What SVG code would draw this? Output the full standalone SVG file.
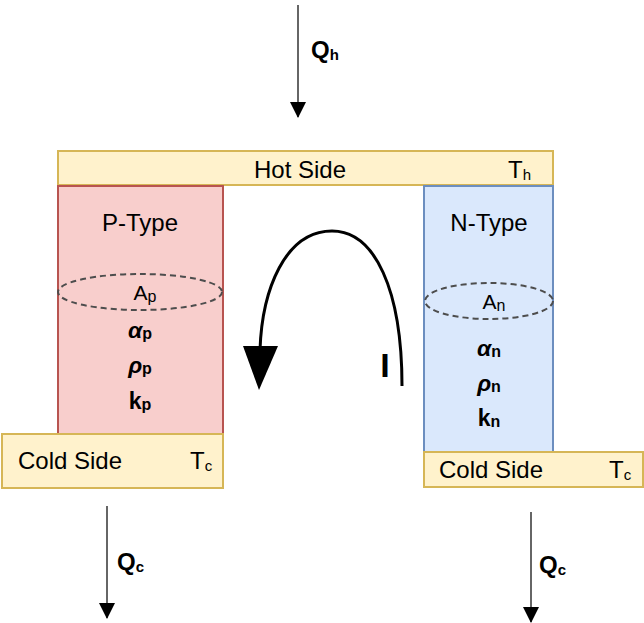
<svg xmlns="http://www.w3.org/2000/svg" width="644" height="623" viewBox="0 0 644 623">
<defs>
<style>
.t{font-family:"Liberation Sans",Arial,sans-serif;fill:#000}
.lbl{font-size:24px}
.hot{fill:#fff2cc;stroke:#d6b656;stroke-width:2}
.p{fill:#f8cecc;stroke:#b85450;stroke-width:2}
.n{fill:#dae8fc;stroke:#6c8ebf;stroke-width:2}
.ell{fill:none;stroke:#4d4d4d;stroke-width:2;stroke-dasharray:6 4}
.q{stroke:#333;stroke-width:1.5;fill:none;marker-end:url(#ah)}
.sym{font-size:23px;font-weight:bold}
.ss{font-size:16px;font-weight:bold}
</style>
<marker id="ah" markerWidth="16" markerHeight="16" refX="15" refY="8" orient="auto" markerUnits="userSpaceOnUse">
<path d="M0,0 L16,8 L0,16 Z" fill="#000"/>
</marker>
</defs>
<rect width="644" height="623" fill="#fff"/>

<g id="hot-side">
<rect class="hot" x="58" y="151" width="495" height="34"/>
<text class="t lbl" x="300" y="178" text-anchor="middle">Hot Side</text>
<text class="t lbl" x="508" y="178">T<tspan font-size="15" dy="2">h</tspan></text>
</g>

<g id="p-type">
<rect class="p" x="58" y="186" width="165" height="248"/>
<text class="t lbl" x="140" y="231" text-anchor="middle">P-Type</text>
<ellipse class="ell" cx="140" cy="292" rx="82" ry="18"/>
<text class="t" font-size="21" x="145" y="300" text-anchor="middle">A<tspan font-size="16" dy="2">p</tspan></text>
<text class="t" x="140" y="338" text-anchor="middle"><tspan class="sym" font-style="italic">α</tspan><tspan class="ss" dy="1">p</tspan></text>
<text class="t" x="140" y="373" text-anchor="middle"><tspan class="sym" font-style="italic">ρ</tspan><tspan class="ss" dy="1">p</tspan></text>
<text class="t" x="140" y="409" text-anchor="middle"><tspan class="sym">k</tspan><tspan class="ss" dy="1">p</tspan></text>
</g>

<g id="n-type">
<rect class="n" x="424" y="186" width="129" height="266"/>
<text class="t lbl" x="489" y="231" text-anchor="middle">N-Type</text>
<ellipse class="ell" cx="489" cy="301" rx="64" ry="18"/>
<text class="t" font-size="21" x="494" y="309" text-anchor="middle">A<tspan font-size="16" dy="2">n</tspan></text>
<text class="t" x="489" y="356" text-anchor="middle"><tspan class="sym" font-style="italic">α</tspan><tspan class="ss" dy="1">n</tspan></text>
<text class="t" x="489" y="391" text-anchor="middle"><tspan class="sym" font-style="italic">ρ</tspan><tspan class="ss" dy="1">n</tspan></text>
<text class="t" x="489" y="426" text-anchor="middle"><tspan class="sym">k</tspan><tspan class="ss" dy="1">n</tspan></text>
</g>

<g id="cold-side-p">
<rect class="hot" x="2" y="434" width="221" height="54"/>
<text class="t lbl" x="18" y="469">Cold Side</text>
<text class="t lbl" x="190" y="469">T<tspan font-size="15" dy="2">c</tspan></text>
</g>

<g id="cold-side-n">
<rect class="hot" x="424" y="452" width="219" height="35"/>
<text class="t lbl" x="439" y="478">Cold Side</text>
<text class="t lbl" x="609" y="478">T<tspan font-size="15" dy="2">c</tspan></text>
</g>

<g id="connectors">
<line class="q" x1="298" y1="5" x2="298" y2="117"/>
<line class="q" x1="107" y1="506" x2="107" y2="618"/>
<line class="q" x1="531" y1="512" x2="531" y2="622"/>
<path d="M402,386 C402,290 375,231 332,231 C285,231 262,290 260,350" fill="none" stroke="#000" stroke-width="3"/>
<polygon points="243,346 278,346 259,390" fill="#000"/>
</g>

<g id="labels">
<text class="t" font-size="24" font-weight="bold" x="311" y="58">Q<tspan font-size="15" dy="2">h</tspan></text>
<text class="t" font-size="24" font-weight="bold" x="117" y="570">Q<tspan font-size="15" dy="2">c</tspan></text>
<text class="t" font-size="24" font-weight="bold" x="539" y="573">Q<tspan font-size="15" dy="2">c</tspan></text>
<text class="t" font-size="34" font-weight="bold" x="385" y="377" text-anchor="middle">I</text>
</g>
</svg>
